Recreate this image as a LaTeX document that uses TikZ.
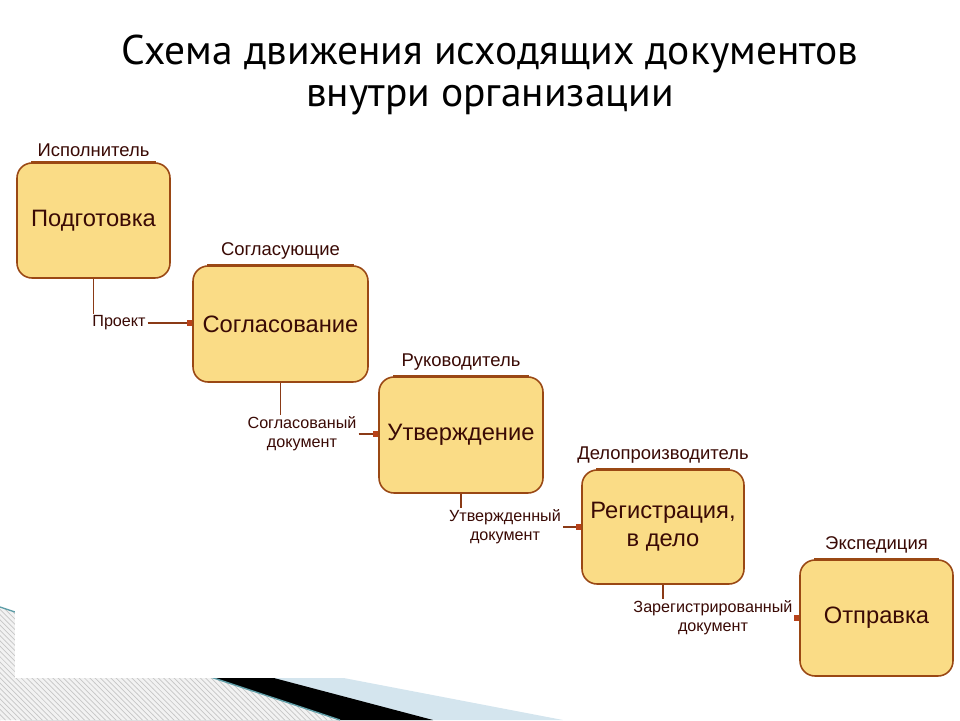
\documentclass[tikz,border=0pt]{standalone}
\usepackage{fontspec}
\setmainfont{Liberation Sans}
\newfontfamily\titlefont{PT Sans}
\usetikzlibrary{positioning, arrows.meta, patterns}
\definecolor{boxfill}{HTML}{FADC86}
\definecolor{boxline}{HTML}{9A4814}
\definecolor{ink}{HTML}{3A0A05}
\definecolor{linkc}{HTML}{8A3A16}
\definecolor{tipc}{HTML}{B8421A}
\definecolor{skyband}{HTML}{D4E5EE}
\definecolor{tealedge}{HTML}{5F9EA8}

\begin{document}
\begin{tikzpicture}[
  x=0.02cm, y=-0.02cm,
  every node/.style={align=center},
  title/.style={font=\titlefont\fontsize{23.6}{24.2}\selectfont},
  stage/.style={draw=boxline, fill=boxfill, rounded corners=0.3cm, line width=0.9pt,
                inner sep=2pt, text=ink, font=\fontsize{13.5}{16}\selectfont},
  topedge/.style={draw=boxline, line width=1.6pt},
  role/.style={inner sep=1pt, text=ink, font=\fontsize{10.5}{12}\selectfont},
  doc/.style={inner sep=1pt, text=ink, font=\fontsize{9.2}{11}\selectfont},
  link/.style={draw=linkc, line width=0.7pt},
  feed/.style={link, -{Square[length=3pt, width=3pt, color=tipc]}},
]
\useasboundingbox (0,0) rectangle (960,720);

% ---------- slide corner ----------
\fill[skyband] (20,616) -- (563,720) -- (20,720) -- cycle;
\fill[black] (20,611) -- (433,720) -- (20,720) -- cycle;
\fill[gray!10] (0,607) -- (340,720) -- (0,720) -- cycle;
\fill[pattern=north west lines, pattern color=gray!45] (0,607) -- (340,720) -- (0,720) -- cycle;
\draw[tealedge, line width=0.8pt] (0,607) -- (340,720);
\fill[white] (15,0) rectangle (960,678);

% ---------- title ----------
\node[title] (title) at (490,75) {Схема движения исходящих документов\\внутри организации};

% ---------- stages ----------
\node[stage, minimum width=3.06cm, minimum height=2.3cm] (p1) at (93.5,220.5) {Подготовка};
\node[stage, minimum width=3.5cm, minimum height=2.32cm] (p2) at (280.5,324) {Согласование};
\node[stage, minimum width=3.28cm, minimum height=2.32cm] (p3) at (461,435) {Утверждение};
\node[stage, minimum width=3.24cm, minimum height=2.28cm] (p4) at (663,527) {Регистрация,\\в дело};
\node[stage, minimum width=3.06cm, minimum height=2.32cm] (p5) at (876.5,618) {Отправка};

\foreach \s in {p1,p2,p3,p4,p5}
  \draw[topedge] ([xshift=0.3cm]\s.north west) -- ([xshift=-0.3cm]\s.north east);

% ---------- who does it ----------
\node[role, above=2pt of p1] (r1) {Исполнитель};
\node[role, above=2pt of p2] (r2) {Согласующие};
\node[role, above=2pt of p3] (r3) {Руководитель};
\node[role, above=2pt of p4] (r4) {Делопроизводитель};
\node[role, above=2pt of p5] (r5) {Экспедиция};

% ---------- documents passed on ----------
\node[doc] (d1) at (119,323) {Проект};
\node[doc] (d2) at (302,434) {Согласованый\\документ};
\node[doc] (d3) at (505,527) {Утвержденный\\документ};
\node[doc] (d4) at (713,618) {Зарегистрированный\\документ};

% ---------- arrows ----------
\draw[link] (p1.south) -- (p1.south |- d1.north);
\draw[feed] (d1.east) -- (d1.east -| p2.west);
\draw[link] (p2.south) -- (p2.south |- d2.north);
\draw[feed] (d2.east) -- (d2.east -| p3.west);
\draw[link] (p3.south) -- (p3.south |- d3.north);
\draw[feed] (d3.east) -- (d3.east -| p4.west);
\draw[link] (p4.south) -- (p4.south |- d4.north);
\draw[feed] (d4.east) -- (d4.east -| p5.west);

\end{tikzpicture}
\end{document}
